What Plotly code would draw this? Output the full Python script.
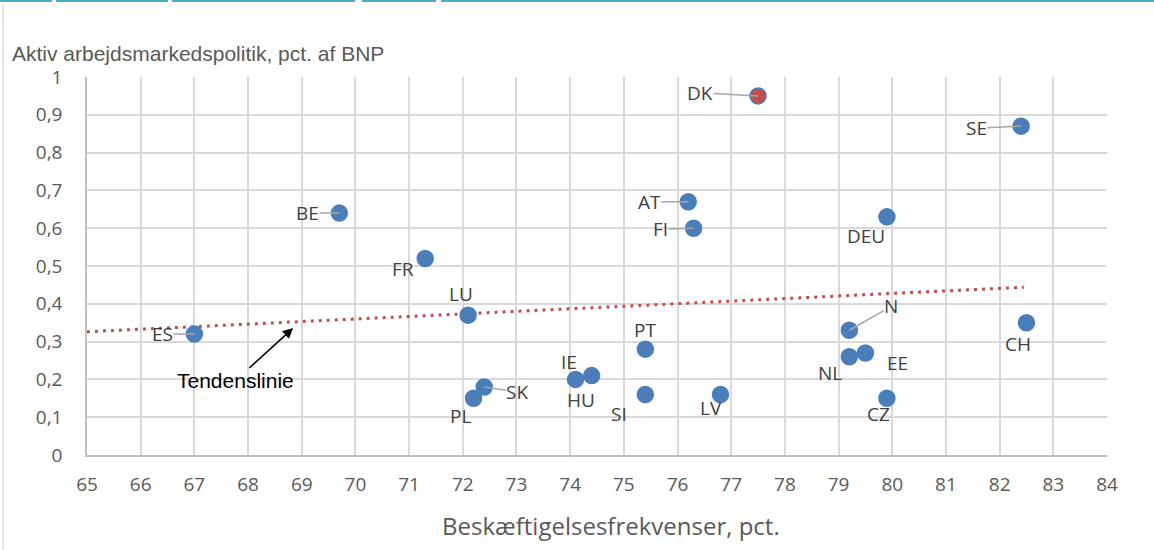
import plotly.graph_objects as go

# ---- data ----
countries = ["ES", "BE", "FR", "LU", "PL", "SK", "IE", "HU", "PT", "SI", "LV",
             "AT", "FI", "DK", "N", "NL", "EE", "CZ", "DEU", "CH", "SE"]
employment = [67.0, 69.7, 71.3, 72.1, 72.2, 72.4, 74.1, 74.4, 75.4, 75.4, 76.8,
              76.2, 76.3, 77.5, 79.2, 79.2, 79.5, 79.9, 79.9, 82.5, 82.4]
almp = [0.32, 0.64, 0.52, 0.37, 0.15, 0.18, 0.20, 0.21, 0.28, 0.16, 0.16,
        0.67, 0.60, 0.95, 0.33, 0.26, 0.27, 0.15, 0.63, 0.35, 0.87]
trend_x = [65.0, 82.45]
trend_y = [0.326, 0.444]
x_ticks = list(range(65, 85))
y_ticks = [0, 0.1, 0.2, 0.3, 0.4, 0.5, 0.6, 0.7, 0.8, 0.9, 1.0]

# ---- label placement (pixels): (dx, dy, leader) ; dy positive = down ----
label_pos = {
    "ES": (-32, 0, True), "BE": (-32, 0, True), "FR": (-22, 11, False),
    "LU": (-7, -21, False), "PL": (-13, 18, False), "SK": (33, 5, True),
    "IE": (-7, -17, False), "HU": (-11, 24, False), "PT": (0, -19, False),
    "SI": (-26, 19, False), "LV": (-9, 13, False), "AT": (-39, 0, True),
    "FI": (-33, 1, True), "DK": (-58, -3, True), "N": (42, -24, True),
    "NL": (-19, 16, False), "EE": (32, 10, False), "CZ": (-8, 16, False),
    "DEU": (-21, 19, False), "CH": (-8, 21, False), "SE": (-45, 2, True),
}

blue = "#4a7ebb"
label_font = dict(family="Open Sans", size=19, color="#404040")

fig = go.Figure()

fig.add_trace(go.Scatter(
    x=trend_x, y=trend_y, mode="lines",
    line=dict(color="#c0504d", width=3, dash="3px,5px"),
    hoverinfo="skip", showlegend=False))

colors = ["#c0504d" if c == "DK" else blue for c in countries]
fig.add_trace(go.Scatter(
    x=employment, y=almp, mode="markers", text=countries,
    marker=dict(size=16, color=colors, line=dict(color=blue, width=1.5)),
    showlegend=False))

annotations = []
for c, xv, yv in zip(countries, employment, almp):
    dx, dy, leader = label_pos[c]
    if leader:
        annotations.append(dict(
            x=xv, y=yv, text=c, showarrow=True, arrowhead=0, arrowwidth=1.5,
            arrowcolor="#a6a6a6", ax=dx, ay=dy, standoff=0, borderpad=0,
            font=label_font))
    else:
        annotations.append(dict(
            x=xv, y=yv, text=c, showarrow=False, xshift=dx, yshift=-dy,
            font=label_font))

# Tendenslinie arrow
annotations.append(dict(
    x=68.84, y=0.336, text="Tendenslinie", showarrow=True, arrowhead=2,
    arrowsize=1.3, arrowwidth=1.6, arrowcolor="#000000", ax=-58, ay=53,
    standoff=0, font=dict(family="Liberation Sans", size=21, color="#000000")))

# y-axis title at top-left
annotations.append(dict(
    xref="paper", yref="paper", x=(10 - 87) / 1020, y=1.0, yshift=24,
    xanchor="left", yanchor="middle", showarrow=False,
    text="Aktiv arbejdsmarkedspolitik, pct. af BNP",
    font=dict(family="Liberation Sans", size=21, color="#595959")))

# x-axis title
annotations.append(dict(
    xref="paper", yref="paper", x=0.5, y=0.0, yshift=-70, xshift=14,
    xanchor="center", yanchor="middle", showarrow=False,
    text="Beskæftigelsesfrekvenser, pct.",
    font=dict(family="Open Sans", size=24, color="#595959")))

shapes = []
# teal bar at very top with gaps
for x0, x1 in [(0, 52), (56, 168), (172, 355), (362, 436), (441, 1154)]:
    shapes.append(dict(type="rect", xref="paper", yref="paper",
                       x0=(x0 - 87) / 1020, x1=(x1 - 87) / 1020,
                       y0=1 + (77 - 2) / 378, y1=1 + 77 / 378,
                       line=dict(width=0), fillcolor="#4bacc6", layer="above"))
# thin frame line at left
shapes.append(dict(type="line", xref="paper", yref="paper",
                   x0=(3 - 87) / 1020, x1=(3 - 87) / 1020,
                   y0=-95 / 378, y1=1 + 72 / 378,
                   line=dict(color="#d9d9d9", width=1.5)))

fig.update_layout(
    width=1154, height=550,
    margin=dict(l=87, r=47, t=77, b=95),
    paper_bgcolor="white", plot_bgcolor="white",
    separators=",.",
    annotations=annotations, shapes=shapes,
    xaxis=dict(range=[65, 84], tickvals=x_ticks, showgrid=True,
               gridcolor="#d9d9d9", gridwidth=1.5, showline=True,
               linecolor="#bfbfbf", linewidth=1.5, zeroline=False,
               ticks="", ticklabelstandoff=11,
               tickfont=dict(family="Open Sans", size=19, color="#595959")),
    yaxis=dict(range=[0, 1], tickvals=y_ticks, showgrid=True,
               gridcolor="#d9d9d9", gridwidth=1.5, showline=True,
               linecolor="#bfbfbf", linewidth=1.5, zeroline=False,
               ticks="", ticklabelstandoff=19,
               tickfont=dict(family="Open Sans", size=19, color="#595959")),
)

fig.write_html("out.html", config={"displayModeBar": False},
               post_script="document.body.style.margin='0';")
